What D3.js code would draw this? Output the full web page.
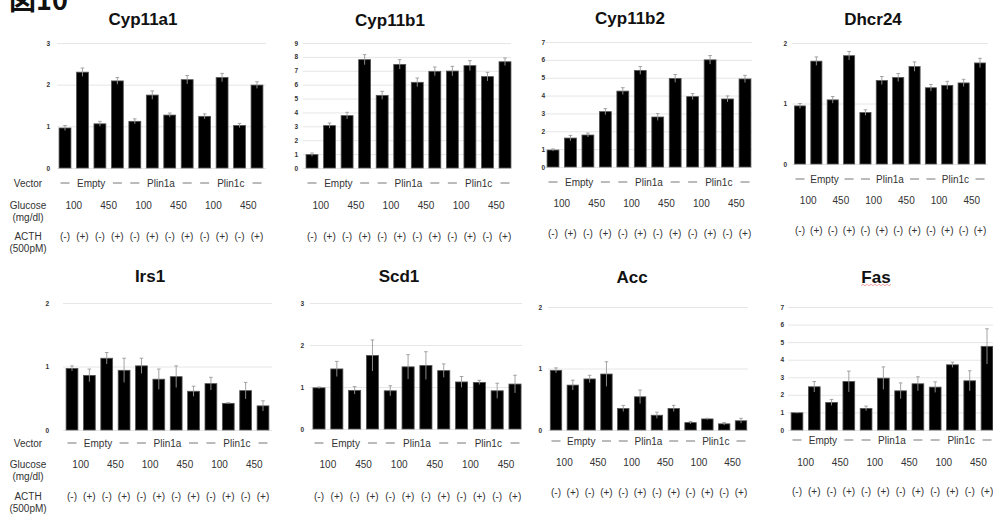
<!DOCTYPE html>
<html>
<head>
<meta charset="utf-8">
<script src="https://cdn.jsdelivr.net/npm/d3@7"></script>
<style>
  html, body { margin: 0; padding: 0; background: #fff; }
  svg { display: block; }
  .grid line { stroke: #e6e6e6; stroke-width: 1; }
  .grid path { display: none; }
  .grid text { font: bold 6.5px "Liberation Sans", Arial, sans-serif; fill: #333; }
</style>
</head>
<body>
<svg id="fig" width="993" height="516"></svg>
<script>
// ---- data ----
const genes = ["Cyp11a1", "Cyp11b1", "Cyp11b2", "Dhcr24", "Irs1", "Scd1", "Acc", "Fas"];
const yMax = [3, 9, 7, 2, 2, 3, 2, 7];

const cyp11a1 = [0.96, 2.30, 1.06, 2.09, 1.12, 1.75, 1.27, 2.12, 1.24, 2.17, 1.02, 1.99];
const cyp11a1Err = [0.06, 0.10, 0.06, 0.08, 0.06, 0.10, 0.05, 0.10, 0.06, 0.10, 0.05, 0.08];
const cyp11b1 = [0.96, 3.05, 3.77, 7.80, 5.23, 7.46, 6.17, 6.96, 6.98, 7.37, 6.58, 7.65];
const cyp11b1Err = [0.12, 0.19, 0.24, 0.36, 0.29, 0.34, 0.31, 0.31, 0.34, 0.36, 0.31, 0.27];
const cyp11b2 = [0.95, 1.62, 1.79, 3.10, 4.25, 5.41, 2.80, 4.96, 3.94, 6.00, 3.81, 4.93];
const cyp11b2Err = [0.06, 0.15, 0.11, 0.17, 0.19, 0.22, 0.19, 0.22, 0.17, 0.24, 0.17, 0.20];
const dhcr24 = [0.96, 1.70, 1.06, 1.79, 0.85, 1.38, 1.43, 1.61, 1.26, 1.30, 1.34, 1.67];
const dhcr24Err = [0.04, 0.07, 0.055, 0.07, 0.045, 0.066, 0.066, 0.077, 0.055, 0.066, 0.06, 0.077];
const irs1 = [0.97, 0.86, 1.13, 0.94, 1.01, 0.80, 0.84, 0.61, 0.73, 0.42, 0.62, 0.38];
const irs1Err = [0.04, 0.10, 0.09, 0.19, 0.12, 0.16, 0.17, 0.08, 0.10, 0.01, 0.13, 0.08];
const scd1 = [0.98, 1.43, 0.92, 1.75, 0.91, 1.48, 1.51, 1.39, 1.12, 1.11, 0.91, 1.07];
const scd1Err = [0.02, 0.18, 0.09, 0.37, 0.12, 0.29, 0.33, 0.16, 0.13, 0.05, 0.18, 0.21];
const acc = [0.97, 0.73, 0.83, 0.91, 0.35, 0.54, 0.24, 0.35, 0.12, 0.18, 0.10, 0.15];
const accErr = [0.04, 0.08, 0.06, 0.20, 0.05, 0.11, 0.05, 0.05, 0.02, 0.01, 0.02, 0.04];
const fas = [0.98, 2.46, 1.57, 2.76, 1.23, 2.95, 2.23, 2.63, 2.44, 3.71, 2.80, 4.76];
const fasErr = [0.02, 0.30, 0.17, 0.59, 0.13, 0.64, 0.45, 0.40, 0.30, 0.15, 0.57, 1.00];

const values = [cyp11a1, cyp11b1, cyp11b2, dhcr24, irs1, scd1, acc, fas];
const errors = [cyp11a1Err, cyp11b1Err, cyp11b2Err, dhcr24Err, irs1Err, scd1Err, accErr, fasErr];

// condition labels
const vectors = ["Empty", "Plin1a", "Plin1c"];
const glucose = ["100", "450"];
const acth = ["(-)", "(+)"];
const rowLabels = [["Vector"], ["Glucose", "(mg/dl)"], ["ACTH", "(500pM)"]];

// ---- layout of each panel ----
// x0/x1: first/last bar centre, left/right: grid extent, lab: tick label x,
// y0: zero line, yT: top tick, rows: y of vector / glucose / ACTH rows, t: title pos
const layout = [
  { x0: 65,  x1: 257, left: 57,  right: 266, lab: 50,  y0: 168, yT: 43,  rows: [183, 205, 236], t: [143, 25] },
  { x0: 312, x1: 505, left: 303, right: 511, lab: 298, y0: 168, yT: 43,  rows: [183, 205, 236], t: [390, 26] },
  { x0: 553, x1: 745, left: 545, right: 752, lab: 545, y0: 167, yT: 42,  rows: [182, 203, 233], t: [630, 24] },
  { x0: 800, x1: 980, left: 792, right: 988, lab: 787, y0: 164, yT: 43,  rows: [179, 200, 230], t: [873, 25] },
  { x0: 72,  x1: 263, left: 63,  right: 272, lab: 49,  y0: 430, yT: 303, rows: [443, 464, 496], t: [150, 282] },
  { x0: 319, x1: 515, left: 310, right: 522, lab: 304, y0: 429, yT: 303, rows: [443, 464, 496], t: [399, 282] },
  { x0: 556, x1: 741, left: 548, right: 748, lab: 542, y0: 430, yT: 307, rows: [441, 462, 492], t: [632, 283] },
  { x0: 797, x1: 987, left: 788, right: 993, lab: 784, y0: 430, yT: 307, rows: [440, 462, 491], t: [876, 283] }
];

const svg = d3.select("#fig");
const textFont = '"Liberation Sans", Arial, sans-serif';
const textColor = "#333";

// figure number
svg.append("text")
  .attr("x", 9).attr("y", 10)
  .attr("font-family", '"Noto Sans CJK JP", sans-serif')
  .attr("font-weight", "bold").attr("font-size", 27)
  .attr("fill", "#111")
  .text("図10");

const idx = d3.range(12);

genes.forEach((gene, gi) => {
  const L = layout[gi];
  const step = (L.x1 - L.x0) / 11;
  const x = d3.scaleBand().domain(idx)
    .range([L.x0 - step / 2, L.x1 + step / 2])
    .paddingInner(0.32).paddingOuter(0.16);
  const y = d3.scaleLinear().domain([0, yMax[gi]]).range([L.y0, L.yT]);
  const g = svg.append("g");

  // title
  g.append("text")
    .attr("x", L.t[0]).attr("y", L.t[1])
    .attr("text-anchor", "middle")
    .attr("font-family", textFont).attr("font-weight", "bold")
    .attr("font-size", 17).attr("fill", "#111")
    .text(gene);

  // gridlines + tick labels
  g.append("g").attr("class", "grid")
    .attr("transform", `translate(${L.left},0)`)
    .call(d3.axisLeft(y).tickValues(d3.range(0, yMax[gi] + 1))
      .tickFormat(d3.format("d"))
      .tickSize(-(L.right - L.left))
      .tickPadding(L.left - L.lab));

  // bars
  g.selectAll("rect.bar").data(values[gi]).join("rect")
    .attr("class", "bar")
    .attr("x", (d, i) => x(i))
    .attr("width", x.bandwidth())
    .attr("y", d => y(d))
    .attr("height", d => y(0) - y(d))
    .attr("fill", "#000")
    .attr("stroke", "#555").attr("stroke-width", 0.8);

  // error bars
  const eb = g.selectAll("g.err").data(values[gi]).join("g").attr("class", "err")
    .attr("stroke", "#9a9a9a").attr("stroke-width", 0.9);
  eb.append("line")
    .attr("x1", (d, i) => x(i) + x.bandwidth() / 2)
    .attr("x2", (d, i) => x(i) + x.bandwidth() / 2)
    .attr("y1", (d, i) => y(d - errors[gi][i]))
    .attr("y2", (d, i) => y(d + errors[gi][i]));
  eb.append("line")
    .attr("x1", (d, i) => x(i) + x.bandwidth() / 2 - 1.8)
    .attr("x2", (d, i) => x(i) + x.bandwidth() / 2 + 1.8)
    .attr("y1", (d, i) => y(d + errors[gi][i]))
    .attr("y2", (d, i) => y(d + errors[gi][i]));

  const cx = i => x(i) + x.bandwidth() / 2;
  const label = (xx, yy, t) => g.append("text")
    .attr("x", xx).attr("y", yy)
    .attr("text-anchor", "middle").attr("dominant-baseline", "central")
    .attr("font-family", textFont).attr("font-size", 10)
    .attr("fill", textColor).text(t);

  // vector row: dashes at group ends, name at group centre
  vectors.forEach((v, vi) => {
    const a = vi * 4, b = vi * 4 + 3;
    [a, b].forEach(k => {
      g.append("line")
        .attr("x1", cx(k) - 4.5).attr("x2", cx(k) + 4.5)
        .attr("y1", L.rows[0]).attr("y2", L.rows[0])
        .attr("stroke", "#777").attr("stroke-width", 1);
    });
    label((cx(a) + cx(b)) / 2, L.rows[0], v);
  });

  // glucose row: one label per pair of bars
  d3.range(6).forEach(p => {
    label((cx(2 * p) + cx(2 * p + 1)) / 2, L.rows[1], glucose[p % 2]);
  });

  // ACTH row: one label per bar
  idx.forEach(i => label(cx(i), L.rows[2], acth[i % 2]));

  // row headings on the left column
  if (gi === 0 || gi === 4) {
    rowLabels.forEach((lines, ri) => {
      lines.forEach((t, li) => label(28, L.rows[ri] + li * 12.5, t));
    });
  }

  // red spell-check squiggle under "Fas"
  if (gene === "Fas") {
    const pts = d3.range(0, 16).map(k => [861 + k * 2, 285 + (k % 2 ? -0.8 : 0.8)]);
    g.append("path").attr("d", d3.line()(pts))
      .attr("fill", "none").attr("stroke", "#f09a9a").attr("stroke-width", 0.9);
  }
});
</script>
</body>
</html>
